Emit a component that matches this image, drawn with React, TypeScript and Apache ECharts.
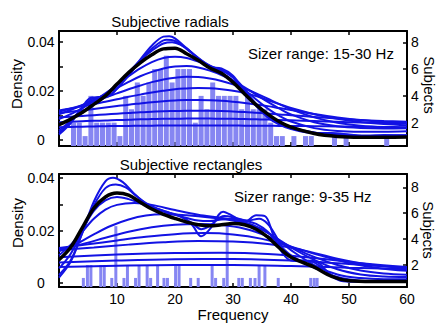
import React, { useEffect, useRef } from 'react';
import * as echarts from 'echarts';

// ---------- shared ----------
const FREQ_TICKS = [10, 20, 30, 40, 50, 60];
const DENSITY_TICKS = [0, 0.01, 0.02, 0.03, 0.04];
const DENSITY_LABELS = [0, 0.02, 0.04];
const SUBJECT_TICKS = [2, 4, 6, 8];

// ---------- top panel: Subjective radials ----------
const topBars: number[][] = [
  [2.5, 2], [3.5, 2], [4.5, 1], [5.5, 4], [6.5, 2], [7.5, 2], [8.5, 2], [9.5, 2], [10.5, 1],
  [11.5, 4], [12.5, 3], [13.5, 5], [14.5, 4], [15.5, 5], [16.5, 6], [17.5, 6], [18.5, 7],
  [19.5, 5], [20.5, 6], [21.5, 6], [22.5, 6], [23.5, 2], [24.5, 4], [25.5, 3], [26.5, 5],
  [27.5, 4], [28.5, 4], [29.5, 4], [30.5, 4], [31.5, 3], [32.5, 4], [33.5, 3], [34.5, 3],
  [35.5, 3], [36.5, 2], [37.5, 1], [38.5, 1], [40.5, 1], [42.5, 1], [43.5, 1], [47.5, 1],
  [49.5, 1], [56.5, 1],
];

const TOP_X = [0, 2, 4, 6, 8, 10, 12, 14, 16, 18, 20, 22, 24, 26, 28, 30, 32, 34, 36, 38, 40, 44, 48, 52, 56, 60];
const topBlack = [0.0062, 0.0085, 0.0112, 0.0145, 0.018, 0.0228, 0.0275, 0.0315, 0.0348, 0.0372, 0.0375, 0.0352, 0.0325, 0.0294, 0.0272, 0.0235, 0.0188, 0.0143, 0.0105, 0.0074, 0.0052, 0.0026, 0.0014, 0.0011, 0.0011, 0.0012];
const topC4 = [0.0085, 0.0105, 0.013, 0.0158, 0.019, 0.0225, 0.026, 0.0292, 0.0318, 0.0335, 0.034, 0.0335, 0.032, 0.03, 0.0275, 0.0243, 0.0205, 0.0165, 0.0128, 0.0098, 0.0075, 0.0048, 0.0036, 0.0033, 0.0033, 0.0035];
const topC5 = [0.0105, 0.0122, 0.0142, 0.0163, 0.0187, 0.0212, 0.0237, 0.026, 0.0278, 0.0292, 0.03, 0.0302, 0.0296, 0.0283, 0.0265, 0.0242, 0.0215, 0.0185, 0.0155, 0.0128, 0.0104, 0.0072, 0.0056, 0.0049, 0.0047, 0.0048];
const topC6 = [0.0115, 0.0128, 0.0142, 0.0157, 0.0173, 0.019, 0.0207, 0.0222, 0.0236, 0.0247, 0.0254, 0.0258, 0.0257, 0.0251, 0.0241, 0.0227, 0.021, 0.019, 0.0168, 0.0146, 0.0125, 0.0092, 0.007, 0.0058, 0.0052, 0.005];
const topC7 = [0.012, 0.0128, 0.0137, 0.0146, 0.0156, 0.0166, 0.0176, 0.0185, 0.0194, 0.0201, 0.0207, 0.021, 0.0212, 0.0211, 0.0207, 0.0201, 0.0192, 0.0179, 0.0162, 0.0146, 0.013, 0.0105, 0.0086, 0.0073, 0.0065, 0.006];
const topC8 = [0.011, 0.0115, 0.012, 0.0126, 0.0132, 0.0138, 0.0144, 0.0149, 0.0154, 0.0158, 0.0161, 0.0163, 0.0163, 0.0162, 0.016, 0.0156, 0.0151, 0.0145, 0.0138, 0.013, 0.0122, 0.0106, 0.0092, 0.0081, 0.0074, 0.007];
const topC9 = [0.0092, 0.0095, 0.0098, 0.0101, 0.0104, 0.0107, 0.011, 0.0113, 0.0115, 0.0117, 0.0118, 0.0119, 0.0119, 0.0119, 0.0118, 0.0116, 0.0114, 0.0111, 0.0108, 0.0104, 0.0101, 0.0094, 0.0087, 0.0081, 0.0077, 0.0074];
const topC10 = [0.0072, 0.0074, 0.0076, 0.0078, 0.0079, 0.0081, 0.0082, 0.0084, 0.0085, 0.0086, 0.0086, 0.0087, 0.0087, 0.0087, 0.0086, 0.0086, 0.0085, 0.0084, 0.0083, 0.0081, 0.008, 0.0077, 0.0074, 0.0071, 0.0069, 0.0067];
const topC11 = [0.0052, 0.0053, 0.0054, 0.0055, 0.0056, 0.0057, 0.0057, 0.0058, 0.0058, 0.0059, 0.0059, 0.0059, 0.0059, 0.0059, 0.0059, 0.0059, 0.0058, 0.0058, 0.0058, 0.0057, 0.0057, 0.0056, 0.0055, 0.0054, 0.0053, 0.0052];
const topC0: number[][] = [[0, 0.0022], [2, 0.0068], [4, 0.0135], [5.5, 0.0172], [7, 0.0175], [8.5, 0.0178], [10, 0.021], [12, 0.0268], [14, 0.0328], [16, 0.0385], [18, 0.0422], [19, 0.0424], [20, 0.0415], [22, 0.0375], [24, 0.0333], [26, 0.0298], [28, 0.0292], [30, 0.0262], [32, 0.0198], [34, 0.0138], [36, 0.0092], [38, 0.0062], [40, 0.0044], [44, 0.0028], [47, 0.0028], [50, 0.0022], [53, 0.0015], [56, 0.002], [60, 0.0018]];
const topC1: number[][] = [[0, 0.003], [2, 0.0072], [4, 0.0132], [5.5, 0.0165], [7, 0.0175], [9, 0.0188], [11, 0.0235], [13, 0.0292], [15, 0.035], [17, 0.0392], [18.5, 0.0409], [20, 0.0404], [22, 0.0372], [24, 0.0333], [26, 0.0302], [28, 0.0286], [30, 0.0256], [32, 0.0198], [34, 0.0142], [36, 0.0098], [38, 0.0068], [40, 0.0047], [44, 0.0029], [48, 0.0024], [52, 0.0018], [56, 0.0018], [60, 0.0019]];
const topC2: number[][] = [[0, 0.0038], [2, 0.0078], [4, 0.0128], [6, 0.016], [8, 0.0182], [10, 0.0222], [12, 0.0276], [14, 0.0325], [16, 0.0365], [18, 0.0394], [19.5, 0.0399], [21, 0.0388], [23, 0.0355], [25, 0.0318], [27, 0.0292], [29, 0.0272], [31, 0.0235], [33, 0.0175], [35, 0.0122], [37, 0.0085], [40, 0.0052], [44, 0.003], [48, 0.002], [52, 0.0016], [56, 0.0016], [60, 0.0018]];

// ---------- bottom panel: Subjective rectangles ----------
const bottomBars: number[][] = [
  [4.2, 1], [4.9, 2], [5.5, 2], [7.2, 2], [7.8, 2], [9.1, 1], [9.8, 5], [11.2, 1], [11.8, 2],
  [13.2, 1], [13.8, 2], [15.2, 2], [15.8, 1], [17.0, 2], [18.1, 1], [18.7, 1], [20.1, 2],
  [20.7, 2], [22.7, 1], [24.0, 1], [26.4, 2], [27.0, 1], [28.4, 1], [29.0, 5], [31.0, 1],
  [31.6, 1], [33.0, 1], [33.8, 1], [34.5, 2], [35.5, 2], [37.8, 1], [43.4, 1], [44.0, 1], [44.5, 1],
];
const botBlack: number[][] = [[0, 0.0088], [2, 0.0135], [4, 0.021], [6, 0.0285], [8, 0.0328], [10, 0.0343], [12, 0.0335], [14, 0.0308], [16, 0.0282], [18, 0.0262], [20, 0.0246], [22, 0.0232], [24, 0.0222], [26, 0.0218], [28, 0.0222], [30, 0.0227], [32, 0.0222], [34, 0.0205], [36, 0.0175], [38, 0.0133], [40, 0.0098], [44, 0.006], [47, 0.0025], [50, 0.0008], [54, 0.0005], [60, 0.0005]];
const botC0: number[][] = [[0, 0.002], [2, 0.008], [4, 0.019], [6, 0.031], [8, 0.0388], [9.3, 0.0402], [11, 0.0385], [13, 0.034], [15, 0.0302], [17, 0.0282], [19, 0.0268], [21, 0.0255], [23, 0.022], [24.5, 0.0178], [26, 0.0205], [28.3, 0.0272], [30, 0.0255], [32, 0.0232], [34, 0.0258], [35.5, 0.0255], [37, 0.018], [38.5, 0.0115], [40, 0.0085], [42, 0.0082], [43.5, 0.0085], [45, 0.0072], [47, 0.0025], [49, 0.0006], [52, 0.0004], [56, 0.0004], [60, 0.0004]];
const botC1: number[][] = [[0, 0.003], [2, 0.0085], [4, 0.019], [6, 0.0295], [8, 0.0362], [9.8, 0.0376], [11.5, 0.0365], [13, 0.0338], [15, 0.0305], [17, 0.0283], [19, 0.0268], [21, 0.0252], [23, 0.0228], [24.5, 0.0205], [26, 0.0218], [28.5, 0.0255], [30.5, 0.0248], [32.5, 0.0238], [34.5, 0.0245], [36, 0.0225], [37.5, 0.0175], [39, 0.0118], [41, 0.0088], [43.5, 0.0082], [46, 0.0048], [48, 0.0016], [52, 0.0005], [56, 0.0004], [60, 0.0004]];
const botC2: number[][] = [[0, 0.0055], [2, 0.011], [4, 0.02], [6, 0.0275], [8, 0.0315], [10, 0.0328], [12, 0.032], [14, 0.0305], [16, 0.0288], [18, 0.0272], [20, 0.026], [22, 0.0248], [24, 0.0238], [26, 0.0236], [28, 0.0242], [30, 0.0245], [32, 0.0238], [34, 0.0225], [36, 0.0195], [38, 0.0145], [40, 0.0105], [44, 0.0058], [48, 0.0022], [52, 0.0008], [56, 0.0006], [60, 0.0006]];
const botC4: number[][] = [[0, 0.0105], [2, 0.0145], [4, 0.0195], [6, 0.0245], [8, 0.028], [10, 0.0298], [13, 0.0305], [16, 0.0298], [20, 0.0278], [24, 0.026], [28, 0.0248], [32, 0.0232], [35, 0.0205], [38, 0.016], [40, 0.0125], [44, 0.0068], [48, 0.0032], [52, 0.0018], [56, 0.0014], [60, 0.0014]];
const botC5: number[][] = [[0, 0.012], [3, 0.0148], [6, 0.0185], [9, 0.0218], [12, 0.0242], [15, 0.0257], [18, 0.0262], [22, 0.0258], [26, 0.025], [30, 0.0238], [34, 0.0212], [37, 0.0178], [40, 0.0135], [44, 0.0088], [48, 0.0052], [52, 0.0032], [56, 0.0024], [60, 0.0022]];
const botC6: number[][] = [[0, 0.0128], [4, 0.0148], [8, 0.0172], [12, 0.0195], [16, 0.0212], [20, 0.0222], [24, 0.0225], [28, 0.0221], [32, 0.0207], [36, 0.0178], [40, 0.0138], [44, 0.0099], [48, 0.0068], [52, 0.0047], [56, 0.0036], [60, 0.0031]];
const botC7: number[][] = [[0, 0.0133], [5, 0.0147], [10, 0.0162], [15, 0.0176], [20, 0.0186], [25, 0.019], [30, 0.0185], [35, 0.0168], [40, 0.0138], [45, 0.0105], [50, 0.0076], [55, 0.0057], [60, 0.0046]];
const botC8: number[][] = [[0, 0.0125], [6, 0.0135], [12, 0.0146], [18, 0.0155], [24, 0.016], [30, 0.0158], [36, 0.0148], [42, 0.0125], [48, 0.0092], [54, 0.0068], [60, 0.0056]];
const botC9: number[][] = [[0, 0.0098], [10, 0.0108], [20, 0.0114], [28, 0.0115], [36, 0.011], [44, 0.0095], [52, 0.0075], [60, 0.006]];
const botC10: number[][] = [[0, 0.0078], [10, 0.0085], [20, 0.009], [30, 0.0091], [40, 0.0085], [50, 0.0072], [60, 0.0058]];
const botC11: number[][] = [[0, 0.006], [10, 0.0065], [20, 0.0068], [30, 0.0068], [40, 0.0064], [50, 0.0058], [60, 0.0052]];

const FONT = "'Liberation Sans', Arial, Helvetica, sans-serif";
const BLUE = '#1212e4';
const BAR = '#8686f2';

const zipX = (ys: number[]) => ys.map((y, i) => [TOP_X[i], y]);

function xAxes(gridIndex: number, labels: boolean) {
  const base = {
    gridIndex, type: 'value', min: 0, max: 60,
    splitLine: { show: false },
    axisLine: { onZero: false, lineStyle: { color: '#000', width: 2 } },
  };
  return [
    {
      ...base, position: 'bottom',
      axisTick: { inside: true, length: 4, customValues: [10, 20, 30, 40, 50], lineStyle: { color: '#000', width: 1.5 } },
      axisLabel: labels
        ? { show: true, customValues: FREQ_TICKS, color: '#000', fontSize: 14, fontFamily: FONT, margin: 5 }
        : { show: false },
    },
    {
      ...base, position: 'top',
      axisTick: { inside: true, length: 4, customValues: [10, 20, 30, 40, 50], lineStyle: { color: '#000', width: 1.5 } },
      axisLabel: { show: false },
    },
  ];
}

function yAxes(gridIndex: number, dMin: number, dMax: number, sMin: number, sMax: number) {
  return [
    {
      gridIndex, type: 'value', position: 'left', min: dMin, max: dMax,
      splitLine: { show: false },
      axisLine: { onZero: false, lineStyle: { color: '#000', width: 2 } },
      axisTick: { inside: true, length: 4, customValues: DENSITY_TICKS, lineStyle: { color: '#000', width: 1.5 } },
      axisLabel: {
        customValues: DENSITY_LABELS, color: '#000', fontSize: 14, fontFamily: FONT,
        align: 'center', margin: 18,
        formatter: (v: number) => (v === 0 ? '0' : v.toFixed(2)),
      },
    },
    {
      gridIndex, type: 'value', position: 'right', min: sMin, max: sMax,
      splitLine: { show: false },
      axisLine: { onZero: false, lineStyle: { color: '#000', width: 2 } },
      axisTick: { inside: true, length: 4, customValues: SUBJECT_TICKS, lineStyle: { color: '#000', width: 1.5 } },
      axisLabel: { customValues: SUBJECT_TICKS, color: '#000', fontSize: 14, fontFamily: FONT, margin: 4 },
    },
  ];
}

function line(data: number[][], xi: number, yi: number, color: string, width: number) {
  return {
    type: 'line', xAxisIndex: xi, yAxisIndex: yi, data,
    showSymbol: false, symbol: 'none', smooth: 0.35, silent: true,
    lineStyle: { color, width }, z: 3,
  };
}

function bars(data: number[][], xi: number, yi: number, w: number) {
  return {
    type: 'bar', xAxisIndex: xi, yAxisIndex: yi, data, barWidth: w,
    itemStyle: { color: BAR }, silent: true, z: 2,
  };
}

function text(t: string, x: number, y: number, opts: any = {}) {
  return {
    type: 'text', x, y, rotation: opts.rotation || 0, silent: true,
    style: {
      text: t, fill: '#000', font: `${opts.size || 15}px ${FONT}`,
      align: opts.align || 'center', verticalAlign: 'middle',
    },
  };
}

const option: any = {
  animation: false,
  backgroundColor: '#fff',
  grid: [
    { left: 59, top: 31, width: 348, height: 115 },
    { left: 59, top: 174, width: 348, height: 113 },
  ],
  xAxis: [...xAxes(0, false), ...xAxes(1, true)],
  yAxis: [...yAxes(0, -0.0025, 0.0445, 0.26, 8.84), ...yAxes(1, -0.0016, 0.0416, 0.3, 9.03)],
  series: [
    bars(topBars, 0, 1, 5),
    ...[topC11, topC10, topC9, topC8, topC7, topC6, topC5, topC4].map((c) => line(zipX(c), 0, 0, BLUE, 2)),
    ...[topC2, topC1, topC0].map((c) => line(c, 0, 0, BLUE, 2)),
    line(zipX(topBlack), 0, 0, '#000', 3.5),
    bars(bottomBars, 2, 3, 3),
    ...[botC11, botC10, botC9, botC8, botC7, botC6, botC5, botC4, botC2, botC1, botC0].map((c) => line(c, 2, 2, BLUE, 2)),
    line(botBlack, 2, 2, '#000', 3.5),
  ],
  graphic: [
    text('Subjective radials', 170, 21),
    text('Subjective rectangles', 191, 164),
    text('Sizer range: 15-30 Hz', 248, 53, { align: 'left' }),
    text('Sizer range: 9-35 Hz', 234, 196, { align: 'left' }),
    text('Density', 16, 84, { rotation: Math.PI / 2 }),
    text('Density', 17, 223, { rotation: Math.PI / 2 }),
    text('Subjects', 429, 85, { rotation: -Math.PI / 2 }),
    text('Subjects', 428, 230, { rotation: -Math.PI / 2 }),
    text('Frequency', 233, 314),
  ],
};

export default function App() {
  const ref = useRef<HTMLDivElement>(null);
  useEffect(() => {
    const chart = echarts.init(ref.current as HTMLDivElement, null, { renderer: 'svg' });
    chart.setOption(option);
    return () => chart.dispose();
  }, []);
  return (
    <div
      ref={ref}
      style={{ position: 'fixed', left: 0, top: 0, width: 442, height: 323, background: '#fff' }}
    />
  );
}
